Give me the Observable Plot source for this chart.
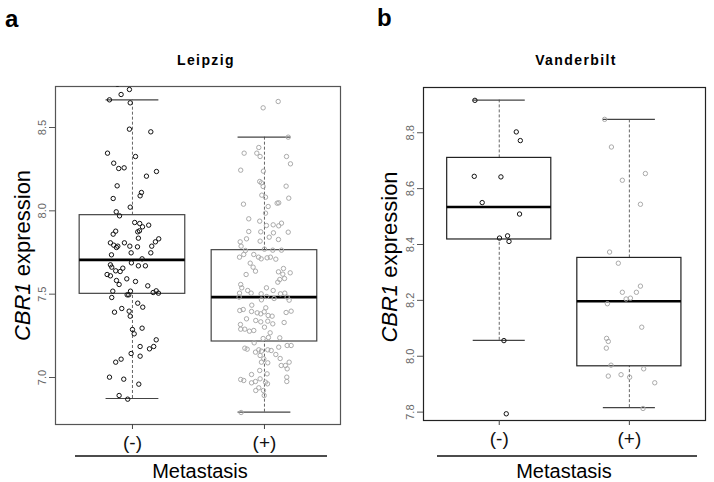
<!DOCTYPE html>
<html>
<head>
<meta charset="utf-8">
<script src="https://cdn.jsdelivr.net/npm/d3@7"></script>
<script src="https://cdn.jsdelivr.net/npm/@observablehq/plot@0.6"></script>
<style>
  html, body { margin: 0; padding: 0; background: #fff; }
  #fig { position: relative; width: 714px; height: 482px; background: #fff; font-family: "Liberation Sans", Arial, sans-serif; }
  #fig .panel { position: absolute; top: 0; }
  #overlay { position: absolute; left: 0; top: 0; pointer-events: none; }
</style>
</head>
<body>
<div id="fig"></div>
<script>
// ---------- data ----------
const groups = ["(-)", "(+)"];

// Leipzig
const leipzigTicks = [7.0, 7.5, 8.0, 8.5];
const leipzigLow = [6.874, 6.792];
const leipzigQ1 = [7.502, 7.216];
const leipzigMedian = [7.706, 7.482];
const leipzigQ3 = [7.974, 7.764];
const leipzigHigh = [8.666, 8.442];

const leipzigNegValues = [8.728,8.698,8.666,8.648,8.76,8.490,8.474,8.346,8.326,8.286,8.254,8.258,8.236,8.208,8.150,8.110,8.090,8.074,8.022,7.994,7.970,7.930,7.924,7.914,7.904,7.880,7.874,7.878,7.860,7.836,7.832,7.814,7.808,7.794,7.780,7.788,7.808,7.788,7.784,7.788,7.736,7.748,7.748,7.712,7.688,7.676,7.662,7.670,7.670,7.656,7.636,7.640,7.618,7.610,7.592,7.582,7.576,7.558,7.550,7.518,7.518,7.520,7.510,7.506,7.496,7.496,7.480,7.446,7.422,7.414,7.392,7.398,7.368,7.288,7.296,7.262,7.226,7.186,7.186,7.172,7.144,7.128,7.110,7.092,7.002,6.990,6.960,6.892,6.870];
const leipzigNegJitter = [-0.023,-0.086,-0.174,-0.017,-0.114,-0.023,0.139,-0.189,0.023,-0.142,-0.104,-0.063,0.182,0.106,-0.116,0.068,0.058,-0.146,-0.017,-0.123,-0.098,0.017,0.055,0.123,0.076,0.053,0.040,-0.127,-0.146,0.045,0.199,0.174,-0.167,-0.142,-0.121,-0.111,-0.061,-0.020,0.038,0.146,-0.159,-0.010,0.139,0.073,-0.008,-0.167,-0.157,0.045,0.098,-0.073,-0.093,-0.127,-0.192,-0.167,-0.043,-0.121,0.023,-0.101,0.116,-0.149,-0.015,0.180,0.157,0.197,-0.028,-0.040,-0.157,0.040,0.078,-0.081,-0.136,-0.025,-0.017,0.000,0.073,0.013,0.180,0.058,0.161,0.129,-0.010,0.058,-0.086,-0.127,-0.174,-0.066,0.048,-0.101,-0.036];

const leipzigPosValues = [8.618,8.656,8.442,8.380,8.346,8.346,8.326,8.326,8.282,8.244,8.238,8.176,8.168,8.146,8.148,8.094,8.082,8.076,8.040,8.026,8.046,8.048,7.986,7.952,7.938,7.912,7.916,7.910,7.926,7.876,7.874,7.868,7.872,7.832,7.842,7.828,7.814,7.818,7.788,7.770,7.764,7.764,7.762,7.722,7.738,7.738,7.722,7.712,7.718,7.722,7.710,7.686,7.662,7.638,7.634,7.654,7.628,7.620,7.618,7.588,7.594,7.572,7.538,7.558,7.538,7.522,7.506,7.506,7.502,7.486,7.522,7.502,7.506,7.482,7.474,7.482,7.464,7.466,7.434,7.418,7.402,7.408,7.396,7.388,7.382,7.394,7.372,7.368,7.390,7.398,7.352,7.342,7.334,7.338,7.322,7.330,7.318,7.290,7.290,7.278,7.282,7.302,7.268,7.234,7.240,7.238,7.208,7.192,7.192,7.176,7.170,7.152,7.166,7.158,7.166,7.162,7.138,7.182,7.132,7.112,7.114,7.092,7.088,7.072,7.072,7.092,7.052,7.042,7.022,7.018,6.988,6.982,6.968,6.976,6.992,6.972,7.002,6.976,6.962,6.938,6.922,6.922,6.892,6.790];
const leipzigPosJitter = [-0.010,0.104,0.180,-0.043,-0.154,-0.058,-0.033,0.167,0.197,-0.180,-0.008,-0.036,-0.023,-0.010,0.164,-0.020,0.008,0.184,-0.159,0.028,0.096,0.108,0.008,-0.119,-0.036,0.015,0.066,0.108,0.129,-0.119,-0.028,0.068,0.180,-0.136,0.036,0.106,-0.184,-0.033,-0.177,0.000,0.063,0.129,-0.144,-0.189,-0.157,-0.081,-0.045,-0.025,0.020,0.045,0.086,-0.108,-0.086,-0.068,0.106,0.144,0.195,0.139,-0.139,0.116,0.152,0.101,0.015,-0.180,-0.172,-0.127,-0.101,-0.189,-0.025,0.017,0.066,0.121,0.154,0.172,0.073,-0.192,0.187,-0.023,-0.096,0.010,-0.187,-0.161,-0.098,-0.055,-0.028,-0.002,0.028,0.058,0.164,0.202,-0.136,-0.066,-0.028,0.025,0.063,0.149,-0.182,-0.149,-0.180,-0.114,-0.081,0.000,0.043,-0.010,0.030,0.116,-0.078,0.172,0.202,-0.149,-0.131,-0.068,-0.043,-0.023,0.025,0.051,0.086,0.108,-0.033,-0.005,0.119,-0.023,0.025,0.127,0.159,0.187,0.172,-0.036,0.020,-0.098,-0.180,-0.157,-0.098,-0.068,-0.033,0.008,0.169,0.169,0.023,-0.043,-0.066,-0.008,-0.002,-0.177];

// Vanderbilt
const vanderbiltTicks = [7.8, 8.0, 8.2, 8.4, 8.6, 8.8];
const vanderbiltLow = [8.057, 7.816];
const vanderbiltQ1 = [8.418, 7.964];
const vanderbiltMedian = [8.534, 8.197];
const vanderbiltQ3 = [8.710, 8.352];
const vanderbiltHigh = [8.917, 8.848];

const vanderbiltNegValues = [8.916,8.803,8.772,8.644,8.642,8.550,8.509,8.423,8.431,8.411,8.056,7.794];
const vanderbiltNegJitter = [-0.187,0.131,0.162,-0.192,0.013,-0.131,0.156,0.002,0.064,0.075,0.036,0.054];
const vanderbiltPosValues = [8.848,8.749,8.654,8.630,8.544,8.373,8.333,8.251,8.229,8.229,8.205,8.208,8.188,8.104,8.064,8.053,8.029,7.968,7.955,7.929,7.934,7.925,7.905,7.813];
const vanderbiltPosJitter = [-0.190,-0.138,0.123,-0.054,0.085,-0.152,-0.085,0.085,-0.054,0.054,-0.025,0.008,-0.169,0.095,-0.175,-0.162,-0.177,-0.141,0.110,-0.162,-0.064,0.002,0.195,0.105];

// ---------- build ----------
const FONT = '"Liberation Sans", Arial, sans-serif';

function boxTable(lo, q1, med, q3, hi) {
  return groups.map((name, i) => ({ g: i + 1, lo: lo[i], q1: q1[i], med: med[i], q3: q3[i], hi: hi[i] }));
}
function pointTable(g, values, jitter) {
  return values.map((v, i) => ({ g, v, j: jitter[i] }));
}

function panel(cfg) {
  const boxes = cfg.boxes;
  return Plot.plot({
    width: 357,
    height: 482,
    marginLeft: cfg.ml, marginRight: cfg.mr, marginTop: cfg.mt, marginBottom: cfg.mb,
    x: { domain: cfg.xDomain, label: null },
    y: { domain: cfg.yDomain, label: null },
    style: { fontFamily: FONT, background: "transparent", overflow: "visible" },
    marks: [
      Plot.frame({ stroke: cfg.frame, strokeWidth: 1.2 }),
      Plot.axisY({ ticks: cfg.ticks, tickSize: 6, tickFormat: () => "", stroke: "#555", label: null }),
      Plot.text(cfg.ticks, { y: d => d, text: d => d.toFixed(1), frameAnchor: "left", dx: -10, rotate: -90,
        textAnchor: "middle", lineAnchor: "bottom", fontSize: 11, fill: "#666" }),
      Plot.axisX({ ticks: [1, 2], tickFormat: d => groups[d - 1], tickSize: 5, tickPadding: 6,
        fontSize: 19, stroke: "#444", fill: "#111", label: null }),
      // dashed whiskers
      Plot.ruleX(boxes, { x: "g", y1: "q3", y2: "hi", stroke: "#666", strokeDasharray: "3,2" }),
      Plot.ruleX(boxes, { x: "g", y1: "lo", y2: "q1", stroke: "#666", strokeDasharray: "3,2" }),
      // staples
      Plot.ruleY(boxes, { y: "hi", x1: d => d.g - 0.2, x2: d => d.g + 0.2, stroke: "#444", strokeWidth: 1.2 }),
      Plot.ruleY(boxes, { y: "lo", x1: d => d.g - 0.2, x2: d => d.g + 0.2, stroke: "#444", strokeWidth: 1.2 }),
      // boxes
      Plot.rect(boxes, { x1: d => d.g - 0.4, x2: d => d.g + 0.4, y1: "q1", y2: "q3", fill: "none", stroke: cfg.boxStroke, strokeWidth: 1.2 }),
      Plot.ruleY(boxes, { y: "med", x1: d => d.g - 0.4, x2: d => d.g + 0.4, stroke: "#000", strokeWidth: 2.6 }),
      // points
      Plot.dot(cfg.neg, { x: d => d.g + d.j, y: "v", r: 2.2, fill: "none", stroke: "#111", strokeWidth: 1, clip: true }),
      Plot.dot(cfg.pos, { x: d => d.g + d.j, y: "v", r: 2.2, fill: "none", stroke: "#aaa", strokeWidth: 1, clip: true })
    ]
  });
}

const fig = document.getElementById("fig");

const pa = panel({
  ml: 55, mr: 17, mt: 86, mb: 58,
  xDomain: [0.417, 2.576], yDomain: [6.718, 8.746],
  ticks: leipzigTicks, frame: "#555", boxStroke: "#444",
  boxes: boxTable(leipzigLow, leipzigQ1, leipzigMedian, leipzigQ3, leipzigHigh),
  neg: pointTable(1, leipzigNegValues, leipzigNegJitter),
  pos: pointTable(2, leipzigPosValues, leipzigPosJitter)
});
pa.classList.add("panel"); pa.style.left = "0px";
fig.appendChild(pa);

const pb = panel({
  ml: 66, mr: 9, mt: 87, mb: 62,
  xDomain: [0.418, 2.585], yDomain: [7.770, 8.962],
  ticks: vanderbiltTicks, frame: "#222", boxStroke: "#222",
  boxes: boxTable(vanderbiltLow, vanderbiltQ1, vanderbiltMedian, vanderbiltQ3, vanderbiltHigh),
  neg: pointTable(1, vanderbiltNegValues, vanderbiltNegJitter),
  pos: pointTable(2, vanderbiltPosValues, vanderbiltPosJitter)
});
pb.classList.add("panel"); pb.style.left = "357px";
fig.appendChild(pb);

// ---------- annotations ----------
const ov = d3.select(fig).append("svg").attr("id", "overlay")
  .attr("width", 714).attr("height", 482)
  .style("font-family", FONT);

const panels = [
  { letter: "a", lx: 5, ly: 27, title: "Leipzig", tx: 206, ylx: 30, yly: 255.5, line: [75, 327], mx: 200 },
  { letter: "b", lx: 377, ly: 26, title: "Vanderbilt", tx: 576, ylx: 397, yly: 257, line: [437, 697], mx: 564 }
];
for (const p of panels) {
  ov.append("text").attr("x", p.lx).attr("y", p.ly).attr("font-size", 24).attr("font-weight", "bold").text(p.letter);
  ov.append("text").attr("x", p.tx).attr("y", 65).attr("text-anchor", "middle").attr("font-size", 14)
    .attr("font-weight", "bold").attr("letter-spacing", "1.4px").text(p.title);
  const yl = ov.append("text").attr("transform", `translate(${p.ylx},${p.yly}) rotate(-90)`)
    .attr("text-anchor", "middle").attr("font-size", 22);
  yl.append("tspan").attr("font-style", "italic").text("CBR1");
  yl.append("tspan").text(" expression");
  ov.append("line").attr("x1", p.line[0]).attr("x2", p.line[1]).attr("y1", 456).attr("y2", 456)
    .attr("stroke", "#111").attr("stroke-width", 1.5);
  ov.append("text").attr("x", p.mx).attr("y", 478).attr("text-anchor", "middle").attr("font-size", 20).text("Metastasis");
}
</script>
</body>
</html>
